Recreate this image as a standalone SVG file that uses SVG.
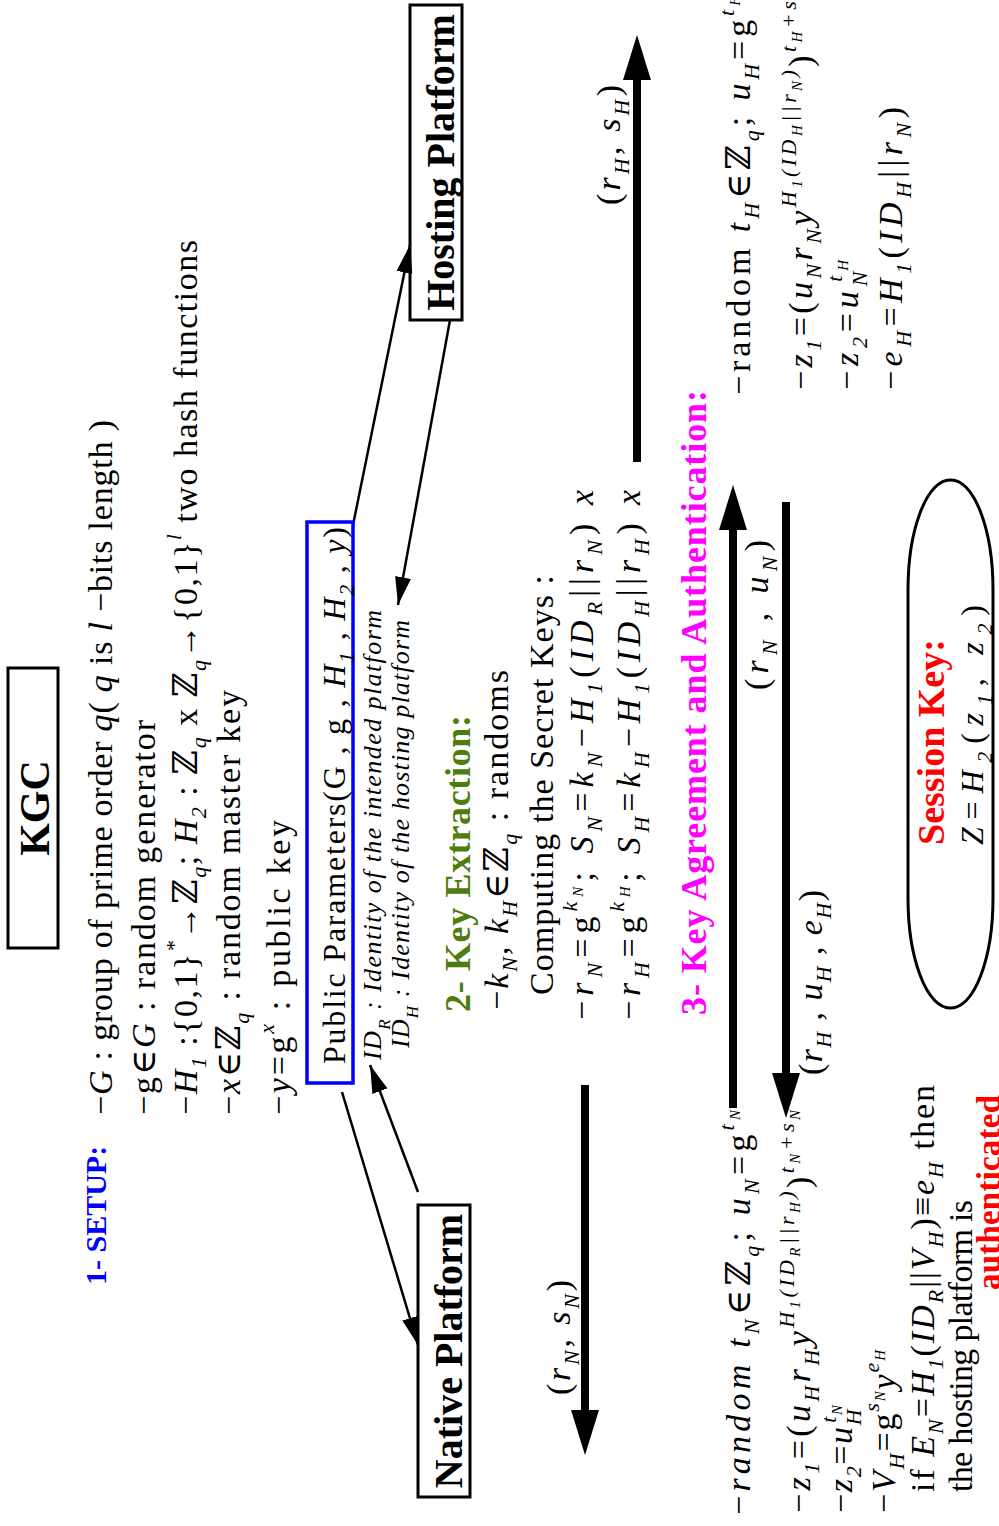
<svg xmlns="http://www.w3.org/2000/svg" width="999" height="1526" viewBox="0 0 999 1526">
<defs>
<style>
text{font-family:"Liberation Serif","Times New Roman","DejaVu Serif",serif;fill:#000}
.m{font-size:34px}
.s{font-size:26px;font-style:italic}
.i{font-style:italic}
.b{font-weight:bold}
.sub{font-size:22px;baseline-shift:-9px;font-style:italic}
.sup{font-size:22px;baseline-shift:16px;font-style:italic}
.ss{font-size:15px;baseline-shift:10px;font-style:italic}
.box{fill:none;stroke:#000;stroke-width:3}
.thin{stroke:#000;stroke-width:2.5;fill:none}
.thick{stroke:#000;stroke-width:8;fill:none}
</style>
<marker id="a1" viewBox="0 0 10 10" refX="10" refY="5" markerWidth="28" markerHeight="16" markerUnits="userSpaceOnUse" orient="auto" preserveAspectRatio="none"><path d="M0,0L10,5L0,10z"/></marker>
<marker id="a2" viewBox="0 0 10 10" refX="0" refY="5" markerWidth="45" markerHeight="28" markerUnits="userSpaceOnUse" orient="auto" preserveAspectRatio="none"><path d="M0,0L10,5L0,10z"/></marker>
</defs>
<rect width="999" height="1526" fill="#fff"/>
<g transform="translate(0,1526) rotate(-90)">
<g id="connectors">
<line class="thin" x1="1001" y1="353" x2="1281" y2="410" marker-end="url(#a1)"/>
<line class="thin" x1="1206" y1="450" x2="921" y2="398" marker-end="url(#a1)"/>
<line class="thin" x1="434" y1="342" x2="181" y2="418" marker-end="url(#a1)"/>
<line class="thin" x1="334" y1="418" x2="461" y2="370" marker-end="url(#a1)"/>
<line class="thick" x1="441" y1="585" x2="116" y2="585" marker-end="url(#a2)"/>
<line class="thick" x1="1064" y1="637" x2="1446" y2="637" marker-end="url(#a2)"/>
<line class="thick" x1="418" y1="733" x2="996" y2="733" marker-end="url(#a2)"/>
<line class="thick" x1="1024" y1="786" x2="453" y2="786" marker-end="url(#a2)"/>
<text class="m" x="131" y="570" textLength="115">(<tspan class="i">r</tspan><tspan class="sub">N</tspan>, <tspan class="i">s</tspan><tspan class="sub">N</tspan>)</text>
<text class="m" x="1321" y="620" textLength="120">(<tspan class="i">r</tspan><tspan class="sub">H</tspan>, <tspan class="i">s</tspan><tspan class="sub">H</tspan>)</text>
<text class="m" x="836" y="768" textLength="150">(<tspan class="i">r</tspan><tspan class="sub">N</tspan> , <tspan class="i">u</tspan><tspan class="sub">N</tspan>)</text>
<text class="m" x="451" y="822" textLength="185">(<tspan class="i">r</tspan><tspan class="sub">H</tspan> , <tspan class="i">u</tspan><tspan class="sub">H</tspan> , <tspan class="i">e</tspan><tspan class="sub">H</tspan>)</text>
</g>
<g id="kgc">
<rect class="box" x="578" y="8" width="280" height="50"/>
<text class="b" x="718" y="49" text-anchor="middle" style="font-size:42px">KGC</text>
</g>
<g id="setup">
<text class="b" x="241" y="106" style="fill:#0000ff;font-size:30px">1- SETUP:</text>
<text class="m" x="411" y="112" textLength="695" lengthAdjust="spacing">−<tspan class="i">G</tspan> : group of prime order <tspan class="i">q</tspan>( <tspan class="i">q</tspan> is <tspan class="i">l</tspan> −bits length )</text>
<text class="m" x="411" y="155" textLength="395" lengthAdjust="spacing">−g∈<tspan class="i">G</tspan> : random generator</text>
<text class="m" x="411" y="197" textLength="875" lengthAdjust="spacing">−<tspan class="i">H</tspan><tspan class="sub">1</tspan> :{0,1}<tspan class="sup">*</tspan>→ℤ<tspan class="sub">q</tspan>; <tspan class="i">H</tspan><tspan class="sub">2</tspan> : ℤ<tspan class="sub">q</tspan> x ℤ<tspan class="sub">q</tspan>→{0,1}<tspan class="sup">l</tspan> two hash functions</text>
<text class="m" x="411" y="240" textLength="425" lengthAdjust="spacing">−<tspan class="i">x</tspan>∈ℤ<tspan class="sub">q</tspan> : random master key</text>
<text class="m" x="411" y="290" textLength="295" lengthAdjust="spacing">−<tspan class="i">y</tspan>=g<tspan class="sup">x</tspan> : public key</text>
</g>
<g id="public-parameters">
<rect x="443" y="307" width="561" height="46" fill="none" stroke="#0000ff" stroke-width="3.5"/>
<text class="m" x="462" y="345" textLength="537" lengthAdjust="spacing" style="font-size:32px">Public Parameters(G , g , <tspan class="i">H</tspan><tspan class="sub">1</tspan> , <tspan class="i">H</tspan><tspan class="sub">2</tspan> , <tspan class="i">y</tspan>)</text>
<text class="s" x="466" y="381" textLength="450" lengthAdjust="spacing">ID<tspan class="sub" style="font-size:17px">R</tspan> : Identity of the intended  platform</text>
<text class="s" x="478" y="409" textLength="428" lengthAdjust="spacing">ID<tspan class="sub" style="font-size:17px">H</tspan> : Identity of the hosting platform</text>
</g>
<g id="hosting-platform">
<rect class="box" x="1206" y="410" width="315" height="52"/>
<text class="b" x="1363.5" y="454" text-anchor="middle" style="font-size:40px">Hosting Platform</text>
</g>
<g id="native-platform">
<rect class="box" x="29" y="418" width="292" height="52"/>
<text class="b" x="175" y="462" text-anchor="middle" style="font-size:40px">Native Platform</text>
</g>
<g id="key-extraction">
<text class="b" x="514" y="470" textLength="297" lengthAdjust="spacing" style="fill:#4d7c0f;font-size:36px">2- Key Extraction:</text>
<text class="m" x="516" y="508" textLength="340" lengthAdjust="spacing">−<tspan class="i">k</tspan><tspan class="sub">N</tspan>, <tspan class="i">k</tspan><tspan class="sub">H</tspan>∈ℤ<tspan class="sub">q</tspan> : randoms</text>
<text class="m" x="531" y="553" textLength="420" lengthAdjust="spacing">Computing the Secret Keys :</text>
<text class="m" x="506" y="593" textLength="530" lengthAdjust="spacing">−<tspan class="i">r</tspan><tspan class="sub">N</tspan>=g<tspan class="sup">k</tspan><tspan class="ss">N</tspan>; <tspan class="i">S</tspan><tspan class="sub">N</tspan>=<tspan class="i">k</tspan><tspan class="sub">N</tspan>−<tspan class="i">H</tspan><tspan class="sub">1</tspan>(<tspan class="i">ID</tspan><tspan class="sub">R</tspan>||<tspan class="i">r</tspan><tspan class="sub">N</tspan>) <tspan class="i">x</tspan></text>
<text class="m" x="506" y="640" textLength="530" lengthAdjust="spacing">−<tspan class="i">r</tspan><tspan class="sub">H</tspan>=g<tspan class="sup">k</tspan><tspan class="ss">H</tspan>; <tspan class="i">S</tspan><tspan class="sub">H</tspan>=<tspan class="i">k</tspan><tspan class="sub">H</tspan>−<tspan class="i">H</tspan><tspan class="sub">1</tspan>(<tspan class="i">ID</tspan><tspan class="sub">H</tspan>||<tspan class="i">r</tspan><tspan class="sub">H</tspan>) <tspan class="i">x</tspan></text>
</g>
<g id="key-agreement">
<text class="b" x="511" y="706" textLength="625" lengthAdjust="spacing" style="fill:#ff00ff;font-size:36px">3- Key Agreement and Authentication:</text>
</g>
<g id="native-computation">
<text class="m" x="11" y="750" textLength="405" lengthAdjust="spacing">−<tspan class="i">random t</tspan><tspan class="sub">N</tspan>∈ℤ<tspan class="sub">q</tspan>; <tspan class="i">u</tspan><tspan class="sub">N</tspan>=g<tspan class="sup">t</tspan><tspan class="ss">N</tspan></text>
<text class="m" x="13" y="810" textLength="403" lengthAdjust="spacing">−<tspan class="i">z</tspan><tspan class="sub">1</tspan>=(<tspan class="i">u</tspan><tspan class="sub">H</tspan><tspan class="i">r</tspan><tspan class="sub">H</tspan><tspan class="i">y</tspan><tspan class="sup">H</tspan><tspan class="ss">1</tspan><tspan class="sup">(ID</tspan><tspan class="ss">R</tspan><tspan class="sup">||r</tspan><tspan class="ss">H</tspan><tspan class="sup">)</tspan>)<tspan class="sup">t</tspan><tspan class="ss">N</tspan><tspan class="sup">+s</tspan><tspan class="ss">N</tspan></text>
<text class="m" x="13" y="852" textLength="108" lengthAdjust="spacing">−<tspan class="i">z</tspan><tspan class="sub">2</tspan>=<tspan class="i">u</tspan><tspan class="sub">H</tspan><tspan class="sup" dx="-15">t</tspan><tspan class="ss">N</tspan></text>
<text class="m" x="13" y="895" textLength="163" lengthAdjust="spacing">−<tspan class="i">V</tspan><tspan class="sub">H</tspan>=g<tspan class="sup">s</tspan><tspan class="ss">N</tspan><tspan class="i">y</tspan><tspan class="sup">e</tspan><tspan class="ss">H</tspan></text>
<text class="m" x="34" y="934" textLength="407" lengthAdjust="spacing">if <tspan class="i">E</tspan><tspan class="sub">N</tspan>=<tspan class="i">H</tspan><tspan class="sub">1</tspan>(<tspan class="i">ID</tspan><tspan class="sub">R</tspan>||<tspan class="i">V</tspan><tspan class="sub">H</tspan>)≡<tspan class="i">e</tspan><tspan class="sub">H</tspan> then</text>
<text class="m" x="34" y="972" textLength="292" lengthAdjust="spacing">the hosting platform is</text>
<text class="b" x="236" y="1000" textLength="195" lengthAdjust="spacing" style="fill:#ff0000;font-size:33px">authenticated</text>
</g>
<g id="hosting-computation">
<text class="m" x="1131" y="750" textLength="400" lengthAdjust="spacing">−random <tspan class="i">t</tspan><tspan class="sub">H</tspan>∈ℤ<tspan class="sub">q</tspan>; <tspan class="i">u</tspan><tspan class="sub">H</tspan>=g<tspan class="sup">t</tspan><tspan class="ss">H</tspan></text>
<text class="m" x="1136" y="812" textLength="403" lengthAdjust="spacing">−<tspan class="i">z</tspan><tspan class="sub">1</tspan>=(<tspan class="i">u</tspan><tspan class="sub">N</tspan><tspan class="i">r</tspan><tspan class="sub">N</tspan><tspan class="i">y</tspan><tspan class="sup">H</tspan><tspan class="ss">1</tspan><tspan class="sup">(ID</tspan><tspan class="ss">H</tspan><tspan class="sup">||r</tspan><tspan class="ss">N</tspan><tspan class="sup">)</tspan>)<tspan class="sup">t</tspan><tspan class="ss">H</tspan><tspan class="sup">+s</tspan><tspan class="ss">H</tspan></text>
<text class="m" x="1136" y="858" textLength="130" lengthAdjust="spacing">−<tspan class="i">z</tspan><tspan class="sub">2</tspan>=<tspan class="i">u</tspan><tspan class="sub">N</tspan><tspan class="sup" dx="-15">t</tspan><tspan class="ss">H</tspan></text>
<text class="m" x="1136" y="902" textLength="283" lengthAdjust="spacing">−<tspan class="i">e</tspan><tspan class="sub">H</tspan>=<tspan class="i">H</tspan><tspan class="sub">1</tspan>(<tspan class="i">ID</tspan><tspan class="sub">H</tspan>||<tspan class="i">r</tspan><tspan class="sub">N</tspan>)</text>
</g>
<g id="session-key">
<rect x="518" y="908" width="528" height="85" rx="110" ry="42" fill="none" stroke="#000" stroke-width="3"/>
<text class="b" x="681" y="944" style="fill:#ff0000;font-size:38px">Session Key:</text>
<text class="m" x="681" y="983" textLength="240" lengthAdjust="spacing" style="font-size:32px"><tspan class="i">Z</tspan>=<tspan class="i">H</tspan><tspan class="sub">2</tspan>(<tspan class="i">z</tspan><tspan class="sub">1</tspan>, <tspan class="i">z</tspan><tspan class="sub">2</tspan>)</text>
</g>
</g>
</svg>
